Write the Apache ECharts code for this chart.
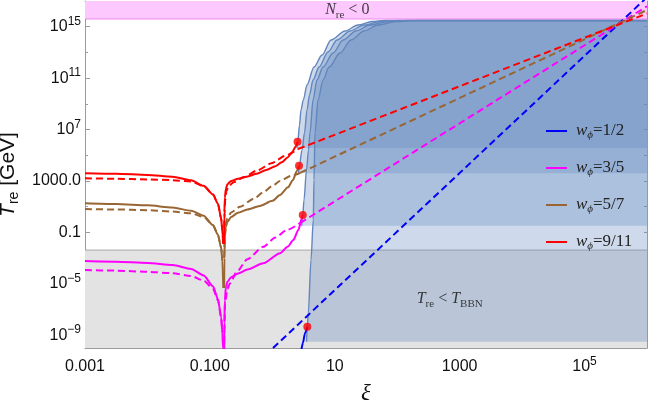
<!DOCTYPE html>
<html>
<head>
<meta charset="utf-8">
<script src="https://cdn.jsdelivr.net/npm/echarts@6/dist/echarts.min.js"></script>
<style>
  html, body { margin: 0; padding: 0; background: #fff; }
  #chart { width: 648px; height: 400px; }
</style>
</head>
<body>
<div id="chart"></div>
<script>
// every point is [log10(xi), log10(T_re / GeV)]
var xLabelTicks = [-3, -1, 1, 3, 5];
var xMinorTicks = [-2, 0, 2, 4];
var yLabelTicks = [-9, -5, -1, 3, 7, 11, 15];
var yMinorTicks = [-7, -3, 1, 5, 9, 13];

var nreLevel = 15.6;    // N_re < 0 above this
var bbnLevel = -2.38;   // T_re < T_BBN below this

var wNames = ['1/2', '3/5', '5/7', '9/11'];
var wColors = ['#0000ff', '#ff00ff', '#996633', '#ff0000'];

// w = 9/11
var redSolidL = [[-3, 3.59], [-2.5, 3.55], [-2, 3.47], [-1.6, 3.33], [-1.3, 3.05], [-1.1, 2.62], [-0.95, 1.95], [-0.87, 1.2], [-0.82, 0.1], [-0.80, -0.9], [-0.787, -1.9]];
var redSolidR = [[-0.772, -1.9], [-0.768, 0.6], [-0.76, 1.7], [-0.745, 2.35], [-0.72, 2.75], [-0.66, 3.0], [-0.55, 3.17], [-0.41, 3.33], [-0.25, 3.55], [-0.1, 3.85], [0.05, 4.15], [0.15, 4.45], [0.25, 4.85], [0.32, 5.25], [0.37, 5.65], [0.403, 6.05]];
var redDashL = [[-3, 3.20], [-2.5, 3.17], [-2, 3.12], [-1.6, 3.06], [-1.3, 2.95], [-1.1, 2.6], [-0.95, 1.95], [-0.87, 1.2], [-0.82, 0.1], [-0.80, -0.9], [-0.787, -1.9]];
var redDashR = [[-0.772, -1.5], [-0.765, 0.5], [-0.755, 1.5], [-0.735, 2.2], [-0.70, 2.6], [-0.62, 2.9], [-0.45, 3.3], [-0.25, 3.8], [0.0, 4.4], [0.2, 4.95], [0.411, 5.48]];
var redTail = [[0.411, 5.48], [6, 16.03]];
var redEdge = [[0.395, 5.56], [0.408, 6.05], [0.435, 7.35], [0.459, 8.52], [0.496, 9.30], [0.555, 10.46], [0.667, 11.86], [0.796, 12.80], [0.94, 13.97], [1.164, 14.67], [1.372, 15.13], [1.597, 15.40], [1.805, 15.48], [6, 15.48]];
var redBottom = 5.56;

// w = 5/7
var brownSolidL = [[-3, 1.26], [-2.5, 1.20], [-2, 1.10], [-1.6, 0.93], [-1.3, 0.68], [-1.1, 0.30], [-0.95, -0.45], [-0.87, -1.2], [-0.82, -2.2], [-0.80, -3.2], [-0.785, -5.33]];
var brownSolidR = [[-0.772, -5.33], [-0.768, -3.0], [-0.76, -1.3], [-0.745, -0.6], [-0.72, -0.2], [-0.66, 0.2], [-0.55, 0.52], [-0.4, 0.78], [-0.2, 1.05], [0.0, 1.45], [0.123, 1.90], [0.25, 2.5], [0.331, 3.07], [0.39, 3.75], [0.427, 4.18]];
var brownDashL = [[-3, 0.81], [-2.5, 0.78], [-2, 0.72], [-1.6, 0.62], [-1.3, 0.48], [-1.1, 0.2], [-0.95, -0.45], [-0.87, -1.2], [-0.82, -2.2], [-0.80, -3.2]];
var brownDashR = [[-0.770, -3.0], [-0.762, -1.4], [-0.745, -0.4], [-0.72, 0.1], [-0.66, 0.55], [-0.518, 0.99], [-0.3, 1.6], [-0.149, 2.1], [0.0, 2.6], [0.123, 3.0], [0.3, 3.4], [0.443, 3.62]];
var brownTail = [[0.443, 3.62], [6, 16.3]];
var brownEdge = [[0.419, 3.59], [0.432, 4.18], [0.475, 5.40], [0.515, 6.73], [0.555, 8.52], [0.595, 9.68], [0.651, 10.85], [0.748, 11.86], [0.892, 13.03], [1.036, 13.97], [1.244, 14.67], [1.468, 15.13], [1.725, 15.40], [2.013, 15.48], [6, 15.48]];
var brownBottom = 3.59;

// w = 3/5
var magSolidL = [[-3, -3.23], [-2.5, -3.28], [-2, -3.38], [-1.6, -3.55], [-1.3, -3.85], [-1.1, -4.35], [-0.95, -5.2], [-0.87, -6.2], [-0.82, -7.6], [-0.80, -8.8], [-0.79, -10.0], [-0.782, -10.5]];
var magSolidR = [[-0.772, -10.5], [-0.768, -8.0], [-0.76, -6.3], [-0.745, -5.3], [-0.72, -4.85], [-0.66, -4.5], [-0.55, -4.2], [-0.4, -3.9], [-0.145, -3.41], [0.123, -2.63], [0.25, -2.1], [0.336, -1.6], [0.416, -0.82], [0.47, 0.05], [0.487, 0.35]];
var magDashL = [[-3, -3.93], [-2.5, -3.98], [-2, -4.07], [-1.6, -4.18], [-1.3, -4.4], [-1.1, -4.75], [-0.95, -5.4], [-0.87, -6.3], [-0.82, -7.6], [-0.80, -8.8]];
var magDashR = [[-0.772, -10.5], [-0.766, -8.6], [-0.758, -6.53], [-0.72, -5.4], [-0.678, -4.97], [-0.57, -4.07], [-0.4, -3.1], [-0.145, -2.12], [0.05, -1.4], [0.23, -0.82], [0.443, -0.28]];
var magTail = [[0.443, -0.28], [6, 16.59]];
var magEdge = [[0.470, -0.49], [0.487, 0.35], [0.507, 1.51], [0.547, 3.85], [0.579, 5.40], [0.603, 6.73], [0.651, 9.30], [0.715, 10.85], [0.812, 11.86], [0.972, 12.95], [1.133, 13.97], [1.340, 14.67], [1.564, 15.13], [1.853, 15.40], [2.173, 15.48], [6, 15.48]];
var magBottom = -0.49;

// w = 1/2
var blueSolidR = [[0.46, -10.3], [0.49, -9.6], [0.523, -8.86], [0.56, -8.35]];
var blueTail = [[0.011, -10.0], [6, 17.29]];
var blueEdge = [[0.547, -9.51], [0.560, -8.35], [0.576, -7.28], [0.619, -3.16], [0.656, -0.04], [0.667, 3.07], [0.683, 6.73], [0.732, 9.30], [0.812, 10.85], [0.908, 11.86], [1.084, 12.95], [1.260, 13.97], [1.468, 14.67], [1.693, 15.13], [1.981, 15.40], [2.333, 15.48], [6, 15.48]];
var blueBottom = -9.51;

// matching points (red dots)
var matchPoints = [[0.403, 6.05], [0.427, 4.18], [0.487, 0.35], [0.56, -8.35]];

var chart = echarts.init(document.getElementById('chart'));

var frameColor = '#9a9a9a';
var sansFont = 'Liberation Sans';
var serifFont = 'Liberation Serif';

function powLabel(v) {
  return '10{sup|' + (v < 0 ? '\u2212' + (-v) : v) + '}';
}

function curve(name, data, color, dashed, z, smooth) {
  return {
    name: name,
    type: 'line',
    data: data,
    symbol: 'none',
    smooth: smooth ? 0.25 : false,
    smoothMonotone: 'x',
    silent: true,
    color: color,
    lineStyle: { color: color, width: 2, type: dashed ? [7, 4] : 'solid' },
    z: z
  };
}

function region(edge, bottom) {
  return {
    type: 'line',
    data: edge,
    symbol: 'none',
    smooth: 0.3,
    smoothMonotone: 'x',
    silent: true,
    lineStyle: { color: '#6386bd', width: 1.4 },
    areaStyle: { color: 'rgba(96,134,190,0.31)', origin: bottom, opacity: 1 },
    z: 2
  };
}

function frameAxis(pos, min, max, ticks, len, line) {
  return {
    type: 'value', min: min, max: max, position: pos,
    axisLine: { show: line, onZero: false, lineStyle: { color: frameColor, width: 1 } },
    axisTick: { show: true, inside: true, length: len, customValues: ticks, lineStyle: { color: frameColor } },
    axisLabel: { show: false },
    splitLine: { show: false }
  };
}

var subRich = {
  i: { fontFamily: serifFont, fontSize: 16, fontStyle: 'italic', lineHeight: 22 },
  s: { fontFamily: serifFont, fontSize: 11, verticalAlign: 'bottom', lineHeight: 13 }
};

var option = {
  animation: false,
  grid: { left: 85, right: 1, top: 1, bottom: 52, outerBoundsMode: 'none', containLabel: false },
  legend: {
    orient: 'vertical',
    left: 541,
    top: 116,
    itemWidth: 21,
    itemHeight: 2,
    itemGap: 17,
    icon: 'rect',
    selectedMode: false,
    data: wNames,
    formatter: function (name) {
      return '{w|w}{p|\u03d5}=' + name;
    },
    textStyle: {
      fontFamily: serifFont,
      fontSize: 17,
      color: '#222',
      lineHeight: 20,
      padding: [0, 0, 0, 4],
      rich: {
        w: { fontFamily: serifFont, fontSize: 17, fontStyle: 'italic', lineHeight: 20 },
        p: { fontFamily: serifFont, fontSize: 11, fontStyle: 'italic', verticalAlign: 'bottom', lineHeight: 12 }
      }
    }
  },
  xAxis: [
    {
      type: 'value', min: -3, max: 6, position: 'bottom',
      name: '\u03be', nameLocation: 'middle', nameGap: 25,
      nameTextStyle: { fontFamily: serifFont, fontStyle: 'italic', fontSize: 23, color: '#111' },
      axisLine: { show: true, onZero: false, lineStyle: { color: frameColor, width: 1 } },
      axisTick: { show: true, inside: true, length: 5, customValues: xLabelTicks, lineStyle: { color: frameColor } },
      axisLabel: {
        customValues: xLabelTicks, margin: 8,
        fontFamily: sansFont, fontSize: 16, color: '#111', lineHeight: 22,
        rich: { sup: { fontFamily: sansFont, fontSize: 12, verticalAlign: 'top', lineHeight: 13 } },
        formatter: function (v) {
          if (v === -3) return '0.001';
          if (v === -1) return '0.100';
          if (v === 1) return '10';
          if (v === 3) return '1000';
          return powLabel(v);
        }
      },
      splitLine: { show: false }
    },
    frameAxis('bottom', -3, 6, xMinorTicks, 3, false),
    frameAxis('top', -3, 6, xLabelTicks.concat(xMinorTicks), 3, true)
  ],
  yAxis: [
    {
      type: 'value', min: -10, max: 17, position: 'left',
      name: '{t|T}{s|re} [GeV]', nameLocation: 'middle', nameRotate: 90, nameGap: 60,
      nameTextStyle: {
        fontFamily: sansFont, fontSize: 21, color: '#111', lineHeight: 26,
        rich: {
          t: { fontFamily: sansFont, fontSize: 21, fontStyle: 'italic', lineHeight: 26 },
          s: { fontFamily: sansFont, fontSize: 14, verticalAlign: 'bottom', lineHeight: 14 }
        }
      },
      axisLine: { show: true, onZero: false, lineStyle: { color: frameColor, width: 1 } },
      axisTick: { show: true, inside: true, length: 5, customValues: yLabelTicks, lineStyle: { color: frameColor } },
      axisLabel: {
        customValues: yLabelTicks, margin: 4,
        fontFamily: sansFont, fontSize: 16, color: '#111', lineHeight: 22,
        rich: { sup: { fontFamily: sansFont, fontSize: 12, verticalAlign: 'top', lineHeight: 13 } },
        formatter: function (v) {
          if (v === -1) return '0.1';
          if (v === 3) return '1000.0';
          return powLabel(v);
        }
      },
      splitLine: { show: false }
    },
    frameAxis('left', -10, 17, yMinorTicks, 3, false),
    frameAxis('right', -10, 17, yLabelTicks.concat(yMinorTicks), 3, true)
  ],
  series: [
    // T_re < T_BBN band
    {
      type: 'line', data: [[-3, bbnLevel], [6, bbnLevel]], symbol: 'none', silent: true,
      lineStyle: { color: '#a8a8a8', width: 1 },
      areaStyle: { color: '#e3e3e3', origin: 'start', opacity: 1 },
      z: 1
    },
    region(blueEdge, blueBottom),
    region(magEdge, magBottom),
    region(brownEdge, brownBottom),
    region(redEdge, redBottom),
    // N_re < 0 band
    {
      type: 'line', data: [[-3, nreLevel], [6, nreLevel]], symbol: 'none', silent: true,
      lineStyle: { color: '#ee88ee', width: 1 },
      areaStyle: { color: '#fdc8fd', origin: 'end', opacity: 1 },
      z: 3
    },
    curve('1/2 fit', blueTail, wColors[0], true, 4, false),
    curve('3/5 fit', magDashL, wColors[1], true, 4, true),
    curve('3/5 fit', magDashR, wColors[1], true, 4, true),
    curve('3/5 fit', magTail, wColors[1], true, 4, false),
    curve('5/7 fit', brownDashL, wColors[2], true, 4, true),
    curve('5/7 fit', brownDashR, wColors[2], true, 4, true),
    curve('5/7 fit', brownTail, wColors[2], true, 4, false),
    curve('9/11 fit', redDashL, wColors[3], true, 4, true),
    curve('9/11 fit', redDashR, wColors[3], true, 4, true),
    curve('9/11 fit', redTail, wColors[3], true, 4, false),
    curve('1/2', blueSolidR, wColors[0], false, 5, true),
    curve('3/5', magSolidL, wColors[1], false, 5, true),
    curve('3/5', magSolidR, wColors[1], false, 5, true),
    curve('5/7', brownSolidL, wColors[2], false, 6, true),
    curve('5/7', brownSolidR, wColors[2], false, 6, true),
    curve('9/11', redSolidL, wColors[3], false, 7, true),
    curve('9/11', redSolidR, wColors[3], false, 7, true),
    {
      type: 'scatter', data: matchPoints, symbolSize: 8, silent: true,
      itemStyle: { color: '#ff0000' }, z: 8
    },
    // region labels
    {
      type: 'scatter', symbolSize: 1, silent: true, z: 9,
      itemStyle: { color: 'rgba(0,0,0,0)' },
      data: [[1.2, 16.3]],
      label: {
        show: true, position: 'inside', color: '#111',
        fontFamily: serifFont, fontSize: 16, lineHeight: 22,
        formatter: '{i|N}{s|re} < 0',
        rich: subRich
      }
    },
    {
      type: 'scatter', symbolSize: 1, silent: true, z: 9,
      itemStyle: { color: 'rgba(0,0,0,0)' },
      data: [[2.84, -6.19]],
      label: {
        show: true, position: 'inside', color: '#111',
        fontFamily: serifFont, fontSize: 16, lineHeight: 22,
        formatter: '{i|T}{s|re} < {i|T}{s|BBN}',
        rich: subRich
      }
    }
  ]
};

chart.setOption(option);
</script>
</body>
</html>
